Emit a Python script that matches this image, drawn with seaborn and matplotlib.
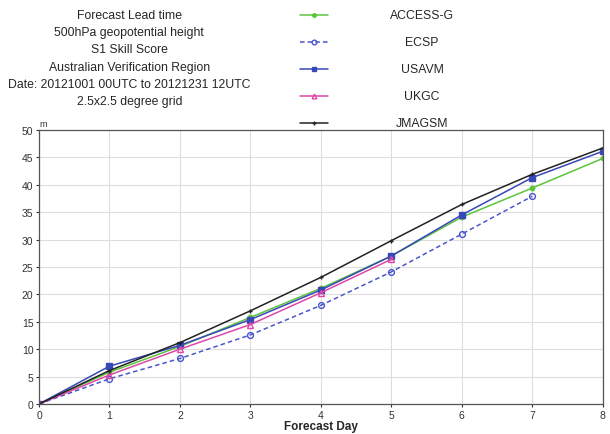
import matplotlib
matplotlib.use("Agg")
import matplotlib.pyplot as plt
from matplotlib.lines import Line2D
import seaborn as sns
import numpy as np

sns.set_style("white")
plt.rcParams['font.family'] = ['Liberation Sans', 'DejaVu Sans']

days = [0, 1, 2, 3, 4, 5, 6, 7, 8]
access_g = [0, 5.8, 10.5, 15.8, 21.1, 27.0, 34.1, 39.4, 44.8]
ecsp = [0, 4.6, 8.3, 12.6, 18.0, 24.1, 31.0, 37.9]
usavm = [0, 6.9, 10.7, 15.4, 20.8, 27.0, 34.5, 41.3, 46.1]
ukgc = [0, 5.3, 10.0, 14.5, 20.3, 26.4]
jmagsm = [0, 6.1, 11.2, 17.0, 23.1, 29.8, 36.4, 41.9, 46.7]

title_lines = ["Forecast Lead time", "500hPa geopotential height", "S1 Skill Score",
               "Australian Verification Region", "Date: 20121001 00UTC to 20121231 12UTC",
               "2.5x2.5 degree grid"]

series = [
    ("ACCESS-G", access_g, dict(color="#5cc43c", marker="o", ms=3.2, ls="-", mfc="#5cc43c", mec="#5cc43c")),
    ("ECSP", ecsp, dict(color="#4a55cc", marker="o", ms=4.2, ls=(0, (3, 2)), mfc="none", mec="#4a55cc")),
    ("USAVM", usavm, dict(color="#3848b8", marker="s", ms=4.0, ls="-", mfc="#3848b8", mec="#3848b8")),
    ("UKGC", ukgc, dict(color="#e048a8", marker="^", ms=4.2, ls="-", mfc="none", mec="#e048a8")),
    ("JMAGSM", jmagsm, dict(color="#222222", marker="+", ms=3.5, ls="-", mfc="#222222", mec="#222222")),
]

fig = plt.figure(figsize=(6.1, 4.35), dpi=100)
ax = fig.add_axes([0.064, 0.069, 0.924, 0.63])

for name, vals, st in series:
    sns.lineplot(x=days[:len(vals)], y=vals, ax=ax, color=st["color"], linewidth=1.1,
                 linestyle=st["ls"], marker=st["marker"], markersize=st["ms"],
                 markerfacecolor=st["mfc"], markeredgecolor=st["mec"], markeredgewidth=1.0)

ax.set_xlim(0, 8)
ax.set_ylim(0, 50)
ax.set_xticks(range(0, 9))
ax.set_yticks(range(0, 51, 5))
ax.grid(True, color="#dddddd", linewidth=0.8)
ax.tick_params(axis="both", labelsize=7.5, colors="#333333", length=2.5, pad=1.5,
               direction="out", bottom=True, left=True)
for s in ax.spines.values():
    s.set_color("#555555")
    s.set_linewidth(0.9)
ax.set_xlabel("Forecast Day", fontsize=8.5, fontweight="bold", labelpad=0)
ax.set_ylabel("")
ax.text(0.0, 50.3, "m", fontsize=6.5, ha="left", va="bottom", color="#333333")

for i, t in enumerate(title_lines):
    fig.text(0.212, 1 - (16 + 17.2 * i) / 435, t, ha="center", va="center", fontsize=8.8)

for i, (name, vals, st) in enumerate(series):
    yf = 1 - (16 + 27 * i) / 435
    ln = Line2D([300 / 610, 328 / 610], [yf, yf], transform=fig.transFigure,
                color=st["color"], linestyle=st["ls"], linewidth=1.1)
    mk = Line2D([314 / 610], [yf], transform=fig.transFigure, marker=st["marker"],
                markersize=st["ms"] * 0.8, markerfacecolor=st["mfc"], markeredgecolor=st["mec"],
                linestyle="none")
    fig.add_artist(ln)
    fig.add_artist(mk)
    fig.text(422 / 610, yf, name, ha="center", va="center", fontsize=8.8)

fig.savefig("out.png", dpi=100)
